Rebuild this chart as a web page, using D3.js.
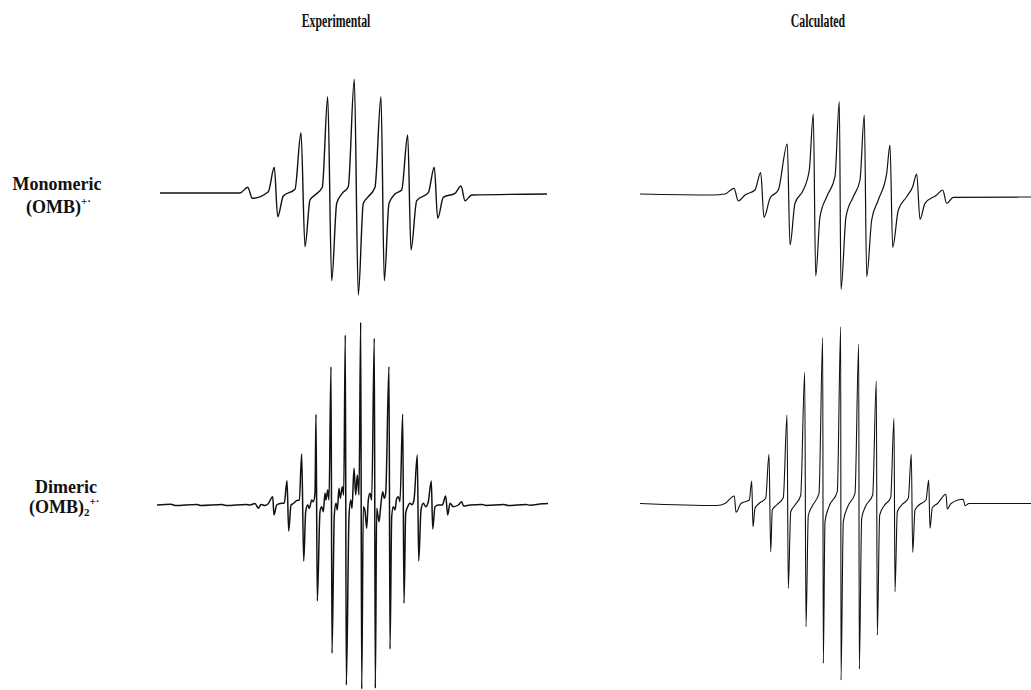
<!DOCTYPE html>
<html>
<head>
<meta charset="utf-8">
<script src="https://cdn.jsdelivr.net/npm/d3@7"></script>
<style>
body { margin: 0; background: #fff; }
text { font-family: "Liberation Serif", "Times New Roman", serif; font-weight: bold; fill: #111; }
</style>
</head>
<body>
<script>
//dimensions declarations
var width = 1031;
var height = 690;

//dataset declarations: [field offset (G), first-derivative intensity (a.u.)]
var columnTitles = ["Experimental", "Calculated"];
var rowNames = ["Monomeric", "Dimeric"];

var expMonomer = [[-38.6,0.01],[-22.6,0.01],[-21.06,0.067],[-20.14,-0.043],[-16.94,0.023],
  [-15.74,0.267],[-15.06,-0.227],[-13.94,-0.02],[-11.6,0.047],
  [-10.4,0.613],[-9.6,-0.527],[-8.6,-0.06],[-7.6,-0.01],[-6.14,0.067],
  [-5.06,0.973],[-4.26,-0.867],[-3.26,-0.093],[-2.14,0.007],[-0.94,0.073],
  [0.26,1.147],[1.06,-1.01],[2.06,-0.093],[3.06,-0.027],[4.4,0.067],
  [5.6,0.973],[6.26,-0.867],[7.2,-0.093],[8.4,0],[9.74,0.04],
  [10.94,0.59],[11.6,-0.56],[12.74,-0.067],[15.06,0.013],
  [16.26,0.267],[16.94,-0.243],[18.06,-0.033],[20.4,0.007],
  [21.6,0.08],[22.4,-0.067],[23.74,-0.01],[38.8,0]];

var calcMonomer = [[-39,0],[-24.6,-0.01],[-22,0],[-20.2,0.057],[-19.34,-0.07],[-18,-0.01],[-16,0.04],
  [-14.86,0.213],[-14.2,-0.233],[-13,-0.043],[-11.34,0.04],
  [-9.54,0.5],[-9,-0.51],[-8,-0.093],[-6.34,0.04],[-5.14,0.24],
  [-4.34,0.8],[-3.86,-0.82],[-3,-0.227],[-1.66,-0.027],[0,0.173],
  [0.86,0.923],[1.2,-0.953],[2.2,-0.227],[3.66,-0.027],[5,0.14],
  [5.86,0.79],[6.34,-0.827],[7.34,-0.26],[8.66,-0.06],[10.34,0.207],
  [11,0.49],[11.54,-0.533],[12.66,-0.16],[14.34,-0.027],[15.54,0.073],
  [16.34,0.2],[17,-0.253],[18,-0.093],[20.34,-0.01],
  [21.54,0.04],[22.34,-0.093],[23.66,-0.033],[39.2,-0.03]];

var expDimer = [[-39.2,0],[-36.4,0.008],[-35.6,-0.004],[-31.2,0.006],[-30.4,-0.006],[-26.2,0.004],[-25.4,-0.005],
  [-21.4,0.006],[-20.6,0],[-19.6,0.015],[-18.94,-0.033],
  [-18.4,0.005],[-17.6,-0.005],[-17,0.01],[-16.06,0.083],[-15.8,-0.1],[-15.26,0],[-14.6,0.015],[-13.74,0.02],
  [-13.2,0.243],[-12.86,-0.26],[-12.4,0],[-11.94,0.015],[-11.26,0.043],[-10.74,0.05],
  [-10.26,0.51],[-9.86,-0.56],[-9.46,-0.067],[-9.06,0],[-8.74,-0.033],[-8.26,0.05],[-7.94,0.033],[-7.6,0.117],
  [-7.4,0.907],[-7.14,-0.96],[-6.6,-0.067],[-6.26,-0.017],[-5.94,-0.067],[-5.6,0.117],[-5.4,0.05],[-5.06,0.15],[-4.8,0.05],
  [-4.4,1.383],[-4.2,-1.483],[-3.74,-0.1],[-3.4,0.017],[-3.14,-0.05],[-2.8,0.167],[-2.54,0.067],[-2.14,0.183],[-1.86,0.1],
  [-1.54,1.7],[-1.34,-1.8],[-0.8,-0.117],[-0.46,0.05],[-0.2,-0.033],[0.2,0.367],[0.54,0.1],[0.86,0.3],[1.2,0.1],
  [1.54,1.827],[1.74,-1.84],[2.06,-0.017],[2.4,-0.06],[2.74,-0.233],[3.06,0.05],[3.4,0.117],[3.74,0.05],
  [4.26,1.667],[4.46,-1.833],[4.74,-0.033],[5.2,-0.167],[5.6,0.017],[5.94,0.133],[6.26,0.067],[6.54,0.117],
  [7.2,1.383],[7.4,-1.44],[7.74,-0.117],[8.06,-0.017],[8.4,-0.05],[8.74,0.067],[9.06,0.083],[9.4,0.033],
  [9.94,0.907],[10.2,-0.983],[10.54,-0.083],[10.94,-0.017],[11.4,0.017],[11.8,0.003],[12.2,0.05],
  [12.86,0.5],[13.14,-0.56],[13.6,-0.05],[14.06,0.017],[14.54,-0.017],[15.06,0.033],
  [15.66,0.24],[15.94,-0.24],[16.4,-0.017],[17.06,0],[17.86,0],
  [18.54,0.09],[18.94,-0.1],[19.4,0.017],[20.06,-0.017],[21.06,0],[21.74,0.033],[22.1,-0.01],
  [23.4,0],[25.8,0.006],[26.6,-0.004],[30.2,0.005],[31,-0.006],[34.6,0.006],[35.4,-0.003],[37.8,0.012],[39,0.015]];

var calcDimer = [[-39,0],[-23.6,-0.02],[-22,0],[-20.14,0.075],[-19.8,-0.088],[-18.8,0],
  [-17.14,0.035],[-16.66,0.225],[-16.4,-0.232],[-16,-0.048],[-15.2,0],
  [-13.86,0.052],[-13.2,0.492],[-12.86,-0.482],[-12.54,-0.065],[-11.66,-0.015],
  [-10.34,0.058],[-9.6,0.885],[-9.34,-0.848],[-8.86,-0.085],[-8,-0.015],
  [-6.86,0.08],[-6.06,1.312],[-5.8,-1.232],[-5.34,-0.12],[-4.54,-0.025],
  [-3.2,0.102],[-2.46,1.658],[-2.34,-1.598],[-2,-0.182],[-1.2,-0.032],
  [0.46,0.118],[1.14,1.768],[1.2,-1.765],[1.66,-0.182],[2.54,-0.032],
  [4,0.102],[4.74,1.592],[4.86,-1.655],[5.34,-0.148],[6.14,-0.025],
  [7.54,0.085],[8.26,1.225],[8.46,-1.315],[8.94,-0.115],[9.8,-0.025],
  [11.14,0.058],[11.8,0.852],[12,-0.882],[12.46,-0.085],[13.34,-0.015],
  [14.66,0.052],[15.26,0.492],[15.54,-0.488],[16,-0.065],[16.8,-0.015],
  [18.2,0.035],[18.74,0.235],[19,-0.248],[19.46,-0.042],[20.5,0],
  [22.2,0.092],[22.46,-0.055],[23.2,0],[25.66,0.042],[26,-0.022],[26.8,0],[39.2,0]];

//panel layout (positions only)
var panels = [
  {data: expMonomer,  left: 158, zero: 194,   stroke: 1.4},
  {data: calcMonomer, left: 640, zero: 194,   stroke: 1.2},
  {data: expDimer,    left: 158, zero: 505,   stroke: 1.5},
  {data: calcDimer,   left: 640, zero: 503.5, stroke: 1.1}
];

var svg = d3.select('body').append('svg')
    .attr('width', width)
    .attr('height', height);

panels.forEach(function(p) {
  var x = d3.scaleLinear().domain([-39, 39]).range([p.left, p.left + 390]);
  var y = d3.scaleLinear().domain([-1, 1]).range([p.zero + 100, p.zero - 100]);

  var line = d3.line()
      .x(function(d) { return x(d[0]); })
      .y(function(d) { return y(d[1]); })
      .curve(d3.curveMonotoneX);

  svg.append('path')
      .datum(p.data)
      .attr('d', line)
      .attr('fill', 'none')
      .attr('stroke', '#111')
      .attr('stroke-width', p.stroke)
      .attr('stroke-linejoin', 'round');
});

//column titles (condensed bold serif, as in the figure)
var titleX = [336, 818];
svg.selectAll('.title')
    .data(columnTitles)
  .enter().append('text')
    .attr('class', 'title')
    .attr('transform', function(d, i) { return 'translate(' + titleX[i] + ',27) scale(0.62,1)'; })
    .attr('text-anchor', 'middle')
    .attr('font-size', 19)
    .text(function(d) { return d; });

//row labels
var mono = svg.append('text').attr('font-size', 18);
mono.append('tspan').attr('x', 57).attr('y', 190).attr('text-anchor', 'middle').text(rowNames[0]);
var mono2 = svg.append('text').attr('font-size', 18).attr('x', 26).attr('y', 213);
mono2.append('tspan').text('(OMB)');
mono2.append('tspan').attr('dy', -8).attr('font-size', 11).text('+·');

var dim = svg.append('text').attr('font-size', 18);
dim.append('tspan').attr('x', 66).attr('y', 493).attr('text-anchor', 'middle').text(rowNames[1]);
var dim2 = svg.append('text').attr('font-size', 18).attr('x', 29).attr('y', 513);
dim2.append('tspan').text('(OMB)');
dim2.append('tspan').attr('dy', 3).attr('font-size', 11).text('2');
dim2.append('tspan').attr('dy', -11).attr('font-size', 11).text('+·');
</script>
</body>
</html>
